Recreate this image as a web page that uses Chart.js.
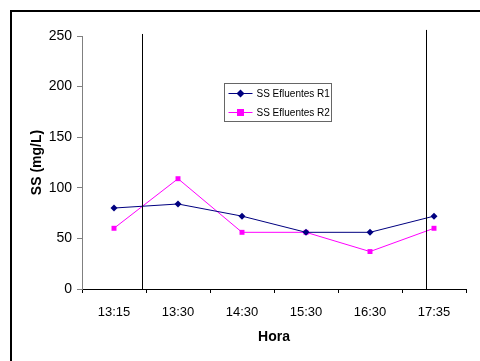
<!DOCTYPE html>
<html>
<head>
<meta charset="utf-8">
<script src="https://cdn.jsdelivr.net/npm/chart.js@4"></script>
<style>
  html, body { margin: 0; padding: 0; background: #fff; }
  #wrap { width: 480px; height: 361px; }
</style>
</head>
<body>
<div id="wrap"><canvas id="chart" width="480" height="361"></canvas></div>
<script>
// Hours and suspended solids readings
const horas = ["13:15", "13:30", "14:30", "15:30", "16:30", "17:35"];
const efluenteR1 = [80, 84, 72, 56, 56, 72];
const efluenteR2 = [60, 109, 56, 56, 37, 60];
const yTicks = [0, 50, 100, 150, 200, 250];
// vertical markers: position on the category axis and the value where they start
const marcas = [{ x: 0.44, top: 252 }, { x: 4.875, top: 256 }];

const FONT = "'Liberation Sans', Arial, sans-serif";

// frame around the chart, the vertical markers and the boxed legend
const extras = {
  id: "extras",
  beforeDraw(chart) {
    const ctx = chart.ctx;
    ctx.save();
    ctx.fillStyle = "#fff";
    ctx.fillRect(0, 0, chart.width, chart.height);
    ctx.restore();
  },
  afterDraw(chart) {
    const ctx = chart.ctx;
    const xs = chart.scales.x, ys = chart.scales.y;
    ctx.save();
    // outer frame
    ctx.strokeStyle = "#000";
    ctx.lineWidth = 2;
    ctx.strokeRect(11, 11, 600, 600);

    // vertical markers
    ctx.lineWidth = 1;
    marcas.forEach(m => {
      const px = Math.round(xs.getPixelForValue(m.x)) + 0.5;
      ctx.beginPath();
      ctx.moveTo(px, ys.getPixelForValue(m.top));
      ctx.lineTo(px, ys.getPixelForValue(0));
      ctx.stroke();
    });

    // legend
    const lx = 224.5, ly = 83.5, lw = 107, lh = 38;
    ctx.strokeStyle = "#666";
    ctx.strokeRect(lx, ly, lw, lh);
    ctx.font = "10px " + FONT;
    ctx.textBaseline = "middle";
    chart.data.datasets.forEach((ds, i) => {
      const cy = ly + 10 + i * 19;
      ctx.strokeStyle = ds.borderColor;
      ctx.lineWidth = 1;
      ctx.beginPath();
      ctx.moveTo(lx + 4, cy);
      ctx.lineTo(lx + 28, cy);
      ctx.stroke();
      ctx.fillStyle = ds.backgroundColor;
      ctx.beginPath();
      if (ds.pointStyle === "rect") {
        ctx.rect(lx + 12.5, cy - 3.5, 7, 7);
      } else {
        ctx.moveTo(lx + 16, cy - 4);
        ctx.lineTo(lx + 20, cy);
        ctx.lineTo(lx + 16, cy + 4);
        ctx.lineTo(lx + 12, cy);
        ctx.closePath();
      }
      ctx.fill();
      ctx.fillStyle = "#000";
      ctx.fillText(ds.label, lx + 32, cy + 0.5);
    });
    ctx.restore();
  }
};

new Chart(document.getElementById("chart").getContext("2d"), {
  type: "line",
  data: {
    labels: horas,
    datasets: [
      {
        label: "SS Efluentes R1",
        data: efluenteR1,
        borderColor: "#000080",
        backgroundColor: "#000080",
        borderWidth: 1,
        pointStyle: "rectRot",
        pointRadius: 3.5,
        pointBorderWidth: 0
      },
      {
        label: "SS Efluentes R2",
        data: efluenteR2,
        borderColor: "#FF00FF",
        backgroundColor: "#FF00FF",
        borderWidth: 1,
        pointStyle: "rect",
        pointRadius: 3.5,
        pointBorderWidth: 0
      }
    ]
  },
  options: {
    responsive: false,
    animation: false,
    devicePixelRatio: 1,
    layout: { padding: { left: 0, top: 36, right: 14, bottom: 0 } },
    plugins: {
      legend: { display: false },
      tooltip: { enabled: false }
    },
    scales: {
      x: {
        offset: true,
        grid: {
          offset: true,
          drawOnChartArea: false,
          drawTicks: true,
          tickLength: 4,
          tickColor: "#000"
        },
        border: { color: "#000", width: 1 },
        ticks: {
          color: "#000",
          padding: 12,
          maxRotation: 0,
          font: { family: FONT, size: 13 }
        },
        title: {
          display: true,
          text: "Hora",
          color: "#000",
          padding: { top: 0, bottom: 15 },
          font: { family: FONT, size: 14, weight: "bold" }
        },
        afterFit(scale) { scale.height = 72; }
      },
      y: {
        min: 0,
        max: 250,
        afterBuildTicks(scale) { scale.ticks = yTicks.map(v => ({ value: v })); },
        grid: {
          drawOnChartArea: false,
          drawTicks: true,
          tickLength: 5,
          tickColor: "#808080"
        },
        border: { color: "#808080", width: 1 },
        ticks: {
          color: "#000",
          padding: 5,
          font: { family: FONT, size: 14 }
        },
        title: {
          display: true,
          text: "SS (mg/L)",
          color: "#000",
          padding: { top: 29, bottom: 0 },
          font: { family: FONT, size: 14, weight: "bold" }
        },
        afterFit(scale) { scale.width = 82; }
      }
    }
  },
  plugins: [extras]
});
</script>
</body>
</html>
